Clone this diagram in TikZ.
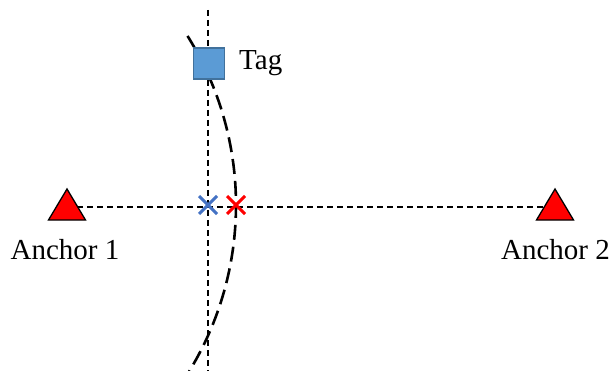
\documentclass[tikz,border=0pt]{standalone}
\usepackage{fontspec}
\setmainfont{Liberation Serif}
\usetikzlibrary{calc}
\begin{document}
\begin{tikzpicture}[x=1pt,y=-1pt,
  lbl/.style={inner sep=0pt,font=\fontsize{29}{34}\selectfont},
  guide/.style={line width=1.6pt,dash pattern=on 6pt off 4pt},
  anchortri/.style={fill=red,draw=black,line width=1.3pt,line join=miter},
  crossmark/.style={line width=3pt}]
\useasboundingbox (0,0) rectangle (612,371);
% guide lines
\coordinate (vtop) at (208,10);
\coordinate (vbot) at (208,371);
\draw[guide] (vtop) -- (vbot);
\coordinate (a1c) at (67,207);
\coordinate (a2c) at (555,207);
\draw[guide] (a1c) -- (a2c);
% dashed arc
\draw[line width=2.6pt,dash pattern=on 15pt off 7pt]
  plot[domain=-32:31.5,samples=60,smooth] ({-83+319*cos(\x)},{205+319*sin(\x)});
% anchors
\draw[anchortri] (67,189) -- (85.5,220) -- (48.5,220) -- cycle;
\draw[anchortri] (555,189) -- (573.5,220) -- (536.5,220) -- cycle;
\node[lbl,anchor=base] (a1) at (65,259) {Anchor 1};
\node[lbl,anchor=base] (a2) at (555.5,259) {Anchor 2};
% tag
\node[draw={rgb,255:red,65;green,113;blue,156},fill={rgb,255:red,91;green,155;blue,213},line width=1.2pt,minimum size=31pt,inner sep=0pt] (tag) at (209,63.5) {};
\node[lbl,anchor=base west] (taglbl) at (239,70) {Tag};
% crosses
\coordinate (bx) at (208,205);
\coordinate (rx) at (236,205);
\draw[crossmark,draw={rgb,255:red,68;green,114;blue,196}] ($(bx)+(-9,-9)$) -- ($(bx)+(9,9)$) ($(bx)+(-9,9)$) -- ($(bx)+(9,-9)$);
\draw[crossmark,draw=red] ($(rx)+(-9,-9)$) -- ($(rx)+(9,9)$) ($(rx)+(-9,9)$) -- ($(rx)+(9,-9)$);
\end{tikzpicture}
\end{document}
